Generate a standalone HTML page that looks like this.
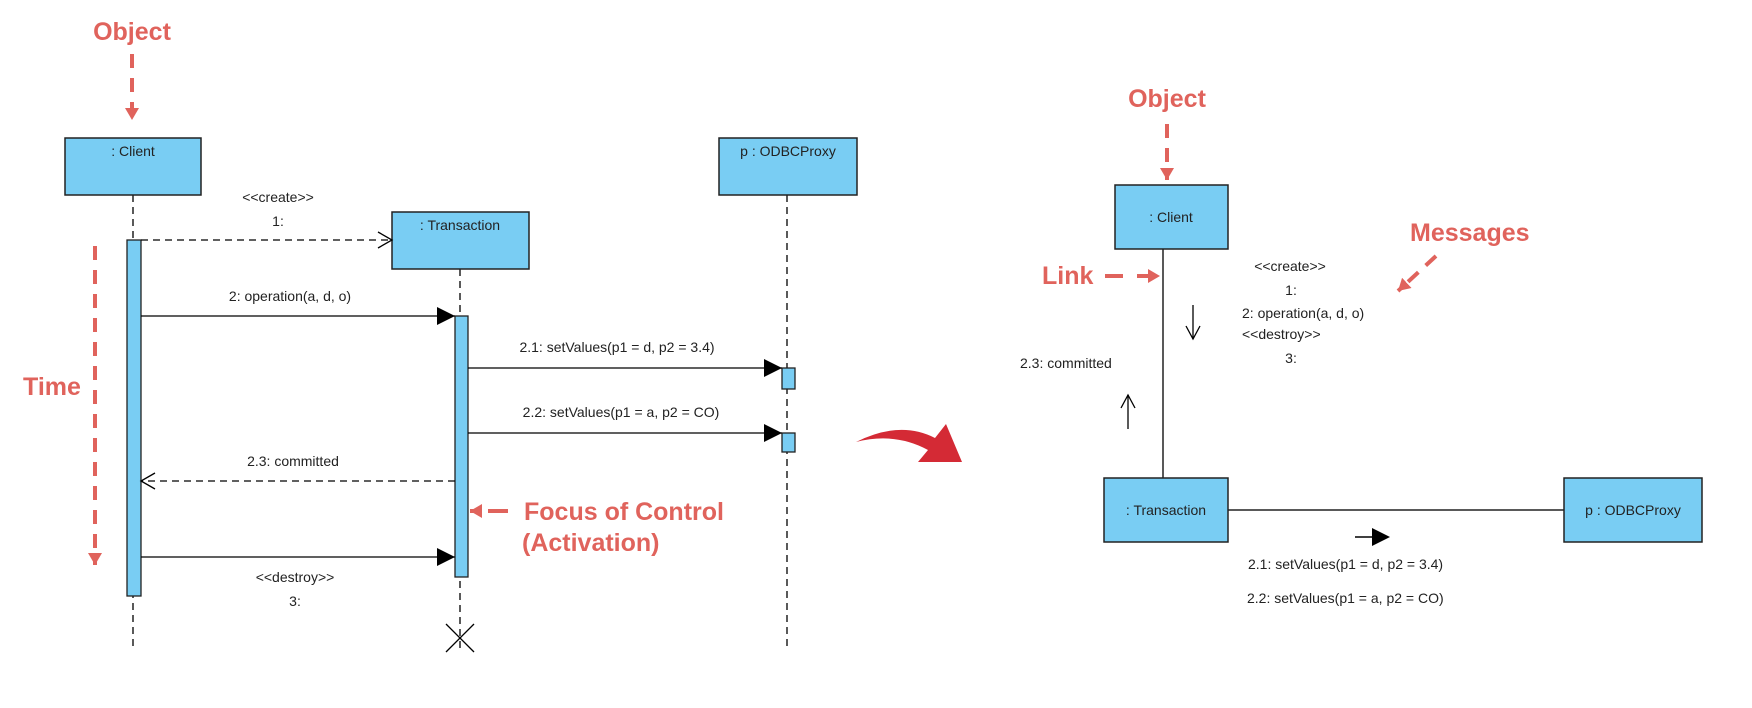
<!DOCTYPE html>
<html><head><style>
html,body{margin:0;padding:0;background:#fff;}
svg{display:block;}
text{font-family:"Liberation Sans",sans-serif;}
.s{font-size:14px;fill:#222;}
.r{font-size:25px;font-weight:bold;fill:#e0635c;}
</style></head><body>
<svg width="1752" height="708" viewBox="0 0 1752 708" xmlns="http://www.w3.org/2000/svg">
<defs>
<marker id="fa" markerWidth="20" markerHeight="20" refX="18" refY="9" orient="auto" markerUnits="userSpaceOnUse"><path d="M0,0 L18,9 L0,18 z" fill="#000"/></marker>
<marker id="oa" markerWidth="20" markerHeight="20" refX="16" refY="9" orient="auto" markerUnits="userSpaceOnUse"><path d="M2,1 L16,9 L2,17" fill="none" stroke="#000" stroke-width="1.3"/></marker>
<marker id="ra" markerWidth="16" markerHeight="16" refX="12" refY="7" orient="auto" markerUnits="userSpaceOnUse"><path d="M0,0 L12,7 L0,14 z" fill="#e0635c"/></marker>
</defs>

<!-- LEFT: sequence diagram -->
<text class="r" x="132" y="40" text-anchor="middle">Object</text>
<line x1="132" y1="54" x2="132" y2="120" stroke="#e0635c" stroke-width="4" stroke-dasharray="14,10" marker-end="url(#ra)"/>

<g stroke="#000" stroke-width="1.3" stroke-dasharray="7,5" fill="none">
<line x1="133" y1="195" x2="133" y2="648"/>
<line x1="460" y1="269" x2="460" y2="648"/>
<line x1="787" y1="195" x2="787" y2="648"/>
</g>

<rect x="65" y="138" width="136" height="57" fill="#79cdf3" stroke="#222" stroke-width="1.5"/>
<text class="s" x="133" y="156" text-anchor="middle">: Client</text>
<rect x="719" y="138" width="138" height="57" fill="#79cdf3" stroke="#222" stroke-width="1.5"/>
<text class="s" x="788" y="156" text-anchor="middle">p : ODBCProxy</text>
<rect x="392" y="212" width="137" height="57" fill="#79cdf3" stroke="#222" stroke-width="1.5"/>
<text class="s" x="460" y="230" text-anchor="middle">: Transaction</text>

<rect x="127" y="240" width="14" height="356" fill="#79cdf3" stroke="#222" stroke-width="1.3"/>
<rect x="455" y="316" width="13" height="261" fill="#79cdf3" stroke="#222" stroke-width="1.3"/>
<rect x="782" y="368" width="13" height="21" fill="#79cdf3" stroke="#222" stroke-width="1.3"/>
<rect x="782" y="433" width="13" height="19" fill="#79cdf3" stroke="#222" stroke-width="1.3"/>

<line x1="141" y1="240" x2="392" y2="240" stroke="#000" stroke-width="1.3" stroke-dasharray="7,5" marker-end="url(#oa)"/>
<text class="s" x="278" y="202" text-anchor="middle">&lt;&lt;create&gt;&gt;</text>
<text class="s" x="278" y="226" text-anchor="middle">1:</text>

<line x1="141" y1="316" x2="455" y2="316" stroke="#000" stroke-width="1.3" marker-end="url(#fa)"/>
<text class="s" x="290" y="301" text-anchor="middle">2: operation(a, d, o)</text>

<line x1="468" y1="368" x2="782" y2="368" stroke="#000" stroke-width="1.3" marker-end="url(#fa)"/>
<text class="s" x="617" y="352" text-anchor="middle">2.1: setValues(p1 = d, p2 = 3.4)</text>

<line x1="468" y1="433" x2="782" y2="433" stroke="#000" stroke-width="1.3" marker-end="url(#fa)"/>
<text class="s" x="621" y="417" text-anchor="middle">2.2: setValues(p1 = a, p2 = CO)</text>

<line x1="455" y1="481" x2="141" y2="481" stroke="#000" stroke-width="1.3" stroke-dasharray="7,5" marker-end="url(#oa)"/>
<text class="s" x="293" y="466" text-anchor="middle">2.3: committed</text>

<line x1="141" y1="557" x2="455" y2="557" stroke="#000" stroke-width="1.3" marker-end="url(#fa)"/>
<text class="s" x="295" y="582" text-anchor="middle">&lt;&lt;destroy&gt;&gt;</text>
<text class="s" x="295" y="606" text-anchor="middle">3:</text>

<line x1="446" y1="624" x2="474" y2="652" stroke="#000" stroke-width="1.3"/>
<line x1="474" y1="624" x2="446" y2="652" stroke="#000" stroke-width="1.3"/>

<text class="r" x="23" y="395">Time</text>
<line x1="95" y1="246" x2="95" y2="565" stroke="#e0635c" stroke-width="4" stroke-dasharray="14,10" marker-end="url(#ra)"/>

<line x1="508" y1="511" x2="470" y2="511" stroke="#e0635c" stroke-width="4" stroke-dasharray="20,10" marker-end="url(#ra)"/>
<text class="r" x="524" y="520">Focus of Control</text>
<text class="r" x="522" y="551">(Activation)</text>

<!-- red curved arrow -->
<path d="M856,442 Q900,420 935,438 L946,424 L962,462 L918,462 L928,450 Q895,432 856,442 z" fill="#d42a35"/>

<!-- RIGHT: communication diagram -->
<text class="r" x="1167" y="107" text-anchor="middle">Object</text>
<line x1="1167" y1="124" x2="1167" y2="180" stroke="#e0635c" stroke-width="4" stroke-dasharray="14,10" marker-end="url(#ra)"/>

<line x1="1163" y1="249" x2="1163" y2="478" stroke="#222" stroke-width="1.5"/>
<line x1="1228" y1="510" x2="1564" y2="510" stroke="#222" stroke-width="1.5"/>

<rect x="1115" y="185" width="113" height="64" fill="#79cdf3" stroke="#222" stroke-width="1.5"/>
<text class="s" x="1171" y="222" text-anchor="middle">: Client</text>
<rect x="1104" y="478" width="124" height="64" fill="#79cdf3" stroke="#222" stroke-width="1.5"/>
<text class="s" x="1166" y="515" text-anchor="middle">: Transaction</text>
<rect x="1564" y="478" width="138" height="64" fill="#79cdf3" stroke="#222" stroke-width="1.5"/>
<text class="s" x="1633" y="515" text-anchor="middle">p : ODBCProxy</text>

<text class="r" x="1042" y="284">Link</text>
<line x1="1105" y1="276" x2="1160" y2="276" stroke="#e0635c" stroke-width="4" stroke-dasharray="18,14" marker-end="url(#ra)"/>

<text class="r" x="1410" y="241">Messages</text>
<line x1="1436" y1="256" x2="1398" y2="291" stroke="#e0635c" stroke-width="4" stroke-dasharray="14,10" marker-end="url(#ra)"/>

<text class="s" x="1290" y="271" text-anchor="middle">&lt;&lt;create&gt;&gt;</text>
<text class="s" x="1291" y="295" text-anchor="middle">1:</text>
<text class="s" x="1242" y="318">2: operation(a, d, o)</text>
<text class="s" x="1242" y="339">&lt;&lt;destroy&gt;&gt;</text>
<text class="s" x="1291" y="363" text-anchor="middle">3:</text>

<line x1="1193" y1="305" x2="1193" y2="339" stroke="#000" stroke-width="1.3"/>
<path d="M1186,326 L1193,339 L1200,326" fill="none" stroke="#000" stroke-width="1.3"/>
<line x1="1128" y1="395" x2="1128" y2="429" stroke="#000" stroke-width="1.3"/>
<path d="M1121,408 L1128,395 L1135,408" fill="none" stroke="#000" stroke-width="1.3"/>

<text class="s" x="1020" y="368">2.3: committed</text>

<line x1="1355" y1="537" x2="1375" y2="537" stroke="#000" stroke-width="1.5"/>
<path d="M1372,528 L1390,537 L1372,546 z" fill="#000"/>

<text class="s" x="1248" y="569">2.1: setValues(p1 = d, p2 = 3.4)</text>
<text class="s" x="1247" y="603">2.2: setValues(p1 = a, p2 = CO)</text>
</svg>
</body></html>
